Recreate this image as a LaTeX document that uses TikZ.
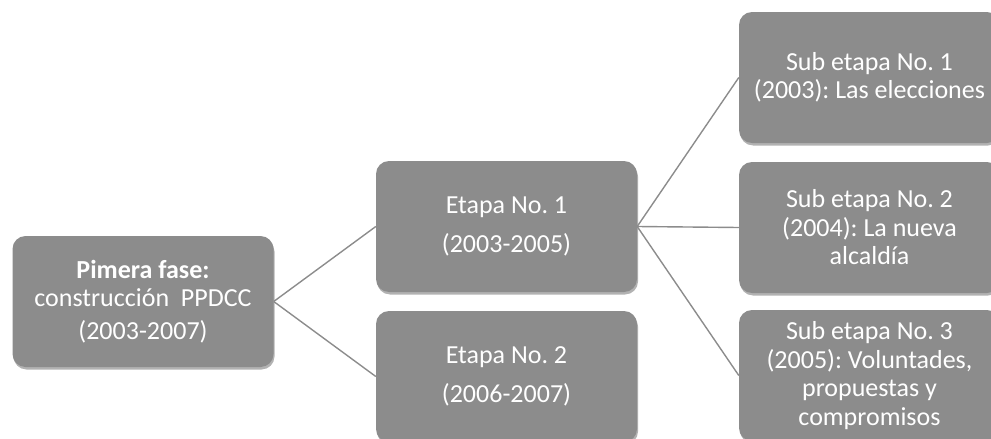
\documentclass[tikz,border=0pt]{standalone}
\usepackage{fontspec}
\setmainfont{Carlito}
\usetikzlibrary{shadows}
\definecolor{boxgray}{HTML}{8C8C8C}
\definecolor{linegray}{HTML}{8C8C8C}
\tikzset{
  phase/.style={draw=none, fill=boxgray, rounded corners=13pt,
    minimum width=261pt, minimum height=131pt, text=white, align=center,
    inner sep=0pt, font=\fontsize{26}{28.5}\selectfont\frenchspacing,
    drop shadow={shadow xshift=1pt, shadow yshift=-2.5pt, opacity=0.3, fill=black}},
  link/.style={draw=linegray, line width=1.4pt}
}
\begin{document}
\begin{tikzpicture}[x=1pt,y=-1pt]
\useasboundingbox (0,0) rectangle (991,439);
\clip (0,0) rectangle (991,439);
\node[phase] (p) at (143,301.5) {\textbf{Pimera fase:}\\construcción\ \ PPDCC\\[4pt](2003-2007)};
\node[phase] (e1) at (506.5,226.5) {Etapa No. 1\\[10pt](2003-2005)};
\node[phase] (e2) at (506.5,376.5) {Etapa No. 2\\[10pt](2006-2007)};
\node[phase] (s1) at (869.5,77.5) {Sub etapa No. 1\\(2003): Las elecciones};
\node[phase] (s2) at (869.5,227.5) {Sub etapa No. 2\\(2004): La nueva\\alcaldía};
\node[phase] (s3) at (869.5,375.5) {Sub etapa No. 3\\(2005): Voluntades,\\propuestas y\\compromisos};
\draw[link] (p.east) -- (e1.west);
\draw[link] (p.east) -- (e2.west);
\draw[link] (e1.east) -- (s1.west);
\draw[link] (e1.east) -- (s2.west);
\draw[link] (e1.east) -- (s3.west);
\end{tikzpicture}
\end{document}
